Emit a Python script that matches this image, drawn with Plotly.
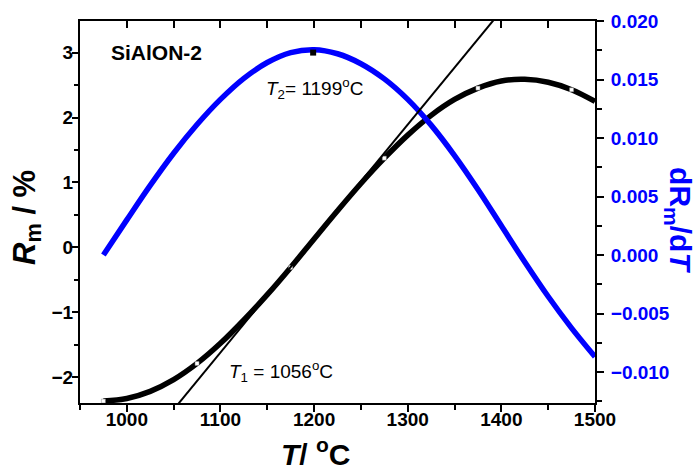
import plotly.graph_objects as go

# ---- data ----
T = [975, 1000, 1025, 1050, 1075, 1100, 1125, 1150, 1175, 1200, 1225,
     1250, 1275, 1300, 1325, 1350, 1375, 1400, 1425, 1450, 1475, 1500]
Rm = [-2.37, -2.33, -2.22, -2.04, -1.79, -1.48, -1.12, -0.73, -0.31, 0.13, 0.565,
      0.985, 1.375, 1.73, 2.035, 2.28, 2.455, 2.565, 2.59, 2.545, 2.43, 2.25]
dRdT = [0.0000, 0.0030, 0.00595, 0.0087, 0.01115, 0.0133, 0.0151, 0.01645, 0.0173, 0.01755, 0.0172,
        0.01635, 0.01505, 0.0133, 0.0111, 0.0085, 0.0056, 0.0025, -0.0006, -0.00355, -0.00625, -0.0087]
marker_idx = [0, 4, 8, 12, 16, 20]
tangent_T = [1050, 1400]
tangent_Rm = [-2.50, 3.65]
peak_T = [1199]
peak_val = [0.0173]
x_ticks = [1000, 1100, 1200, 1300, 1400, 1500]
y_ticks = [-2, -1, 0, 1, 2, 3]
y2_ticks = [-0.010, -0.005, 0.000, 0.005, 0.010, 0.015, 0.020]

FONT = "Liberation Sans"
BLUE = "#0000FF"

fig = go.Figure()
fig.add_trace(go.Scatter(x=T, y=Rm, mode="lines", line=dict(color="black", width=5.5, shape="spline"),
                         showlegend=False))
fig.add_trace(go.Scatter(x=[T[i] for i in marker_idx], y=[Rm[i] for i in marker_idx], mode="markers",
                         marker=dict(symbol="square", size=4, color="white",
                                     line=dict(color="#888888", width=0.5)), showlegend=False))
fig.add_trace(go.Scatter(x=tangent_T, y=tangent_Rm, mode="lines", line=dict(color="black", width=2),
                         xaxis="x2", yaxis="y", showlegend=False))
fig.add_trace(go.Scatter(x=T, y=dRdT, mode="lines", line=dict(color=BLUE, width=5.5, shape="spline"),
                         yaxis="y2", showlegend=False))
fig.add_trace(go.Scatter(x=peak_T, y=peak_val, mode="markers", yaxis="y2",
                         marker=dict(symbol="square", size=6, color="black"), showlegend=False))

tickfont = dict(family=FONT, size=19, color="black", weight="bold")
axis_common = dict(showline=True, linecolor="black", linewidth=2, showgrid=False, zeroline=False,
                   tickcolor="black", tickwidth=2)

fig.update_layout(
    width=698, height=475,
    margin=dict(l=80, r=103, t=21, b=72),
    paper_bgcolor="white", plot_bgcolor="white",
    xaxis=dict(range=[950, 1500], tickvals=x_ticks, ticks="outside", ticklen=7, ticklabelstandoff=-9,
               minor=dict(dtick=50, tick0=950, ticks="outside", ticklen=5, tickwidth=2, tickcolor="black"),
               tickfont=tickfont, **axis_common),
    xaxis2=dict(range=[950, 1500], overlaying="x", side="top", tickvals=x_ticks, ticks="inside", ticklen=7,
                showticklabels=False,
                minor=dict(dtick=50, tick0=950, ticks="inside", ticklen=7, tickwidth=2, tickcolor="black"),
                **axis_common),
    yaxis=dict(range=[-2.4, 3.49], tickvals=y_ticks, ticks="outside", ticklen=6, ticklabelstandoff=-5,
               minor=dict(dtick=0.5, tick0=0, ticks="outside", ticklen=4, tickwidth=2, tickcolor="black"),
               tickfont=tickfont, **axis_common),
    yaxis2=dict(range=[-0.01265, 0.0200], overlaying="y", side="right", tickvals=y2_ticks,
                tickformat=".3f", ticks="outside", ticklen=7, ticklabelstandoff=3,
                minor=dict(dtick=0.0025, tick0=0, ticks="outside", ticklen=5, tickwidth=2, tickcolor="black"),
                tickfont=dict(family=FONT, size=19, color=BLUE, weight="bold"), **axis_common),
    annotations=[
        dict(text="<b>SiAlON-2</b>", x=981, y=3.0, xref="x", yref="y", xanchor="left", yanchor="middle",
             showarrow=False, font=dict(family=FONT, size=21, color="black")),
        dict(text="<i>T</i><sub>2</sub>= 1199<sup>o</sup>C", x=1147, y=2.45, xref="x", yref="y",
             xanchor="left", yanchor="middle", showarrow=False,
             font=dict(family=FONT, size=19, color="black")),
        dict(text="<i>T</i><sub>1</sub> = 1056<sup>o</sup>C", x=1107, y=-1.92, xref="x", yref="y",
             xanchor="left", yanchor="middle", showarrow=False,
             font=dict(family=FONT, size=19, color="black")),
        dict(text="<b><i>T</i>/ <sup>o</sup>C</b>", x=0.458, y=-0.128, xref="paper", yref="paper",
             xanchor="center", yanchor="middle", showarrow=False,
             font=dict(family=FONT, size=30, color="black")),
        dict(text="<b><i>R</i><sub>m</sub> / %</b>", x=-0.103, y=0.487, xref="paper", yref="paper",
             xanchor="center", yanchor="middle", textangle=-90, showarrow=False,
             font=dict(family=FONT, size=31, color="black")),
        dict(text="<b>dR<sub>m</sub>/d<i>T</i></b>", x=1.163, y=0.479, xref="paper", yref="paper",
             xanchor="center", yanchor="middle", textangle=90, showarrow=False,
             font=dict(family=FONT, size=30, color=BLUE)),
    ],
)

fig.write_html("out.html")
